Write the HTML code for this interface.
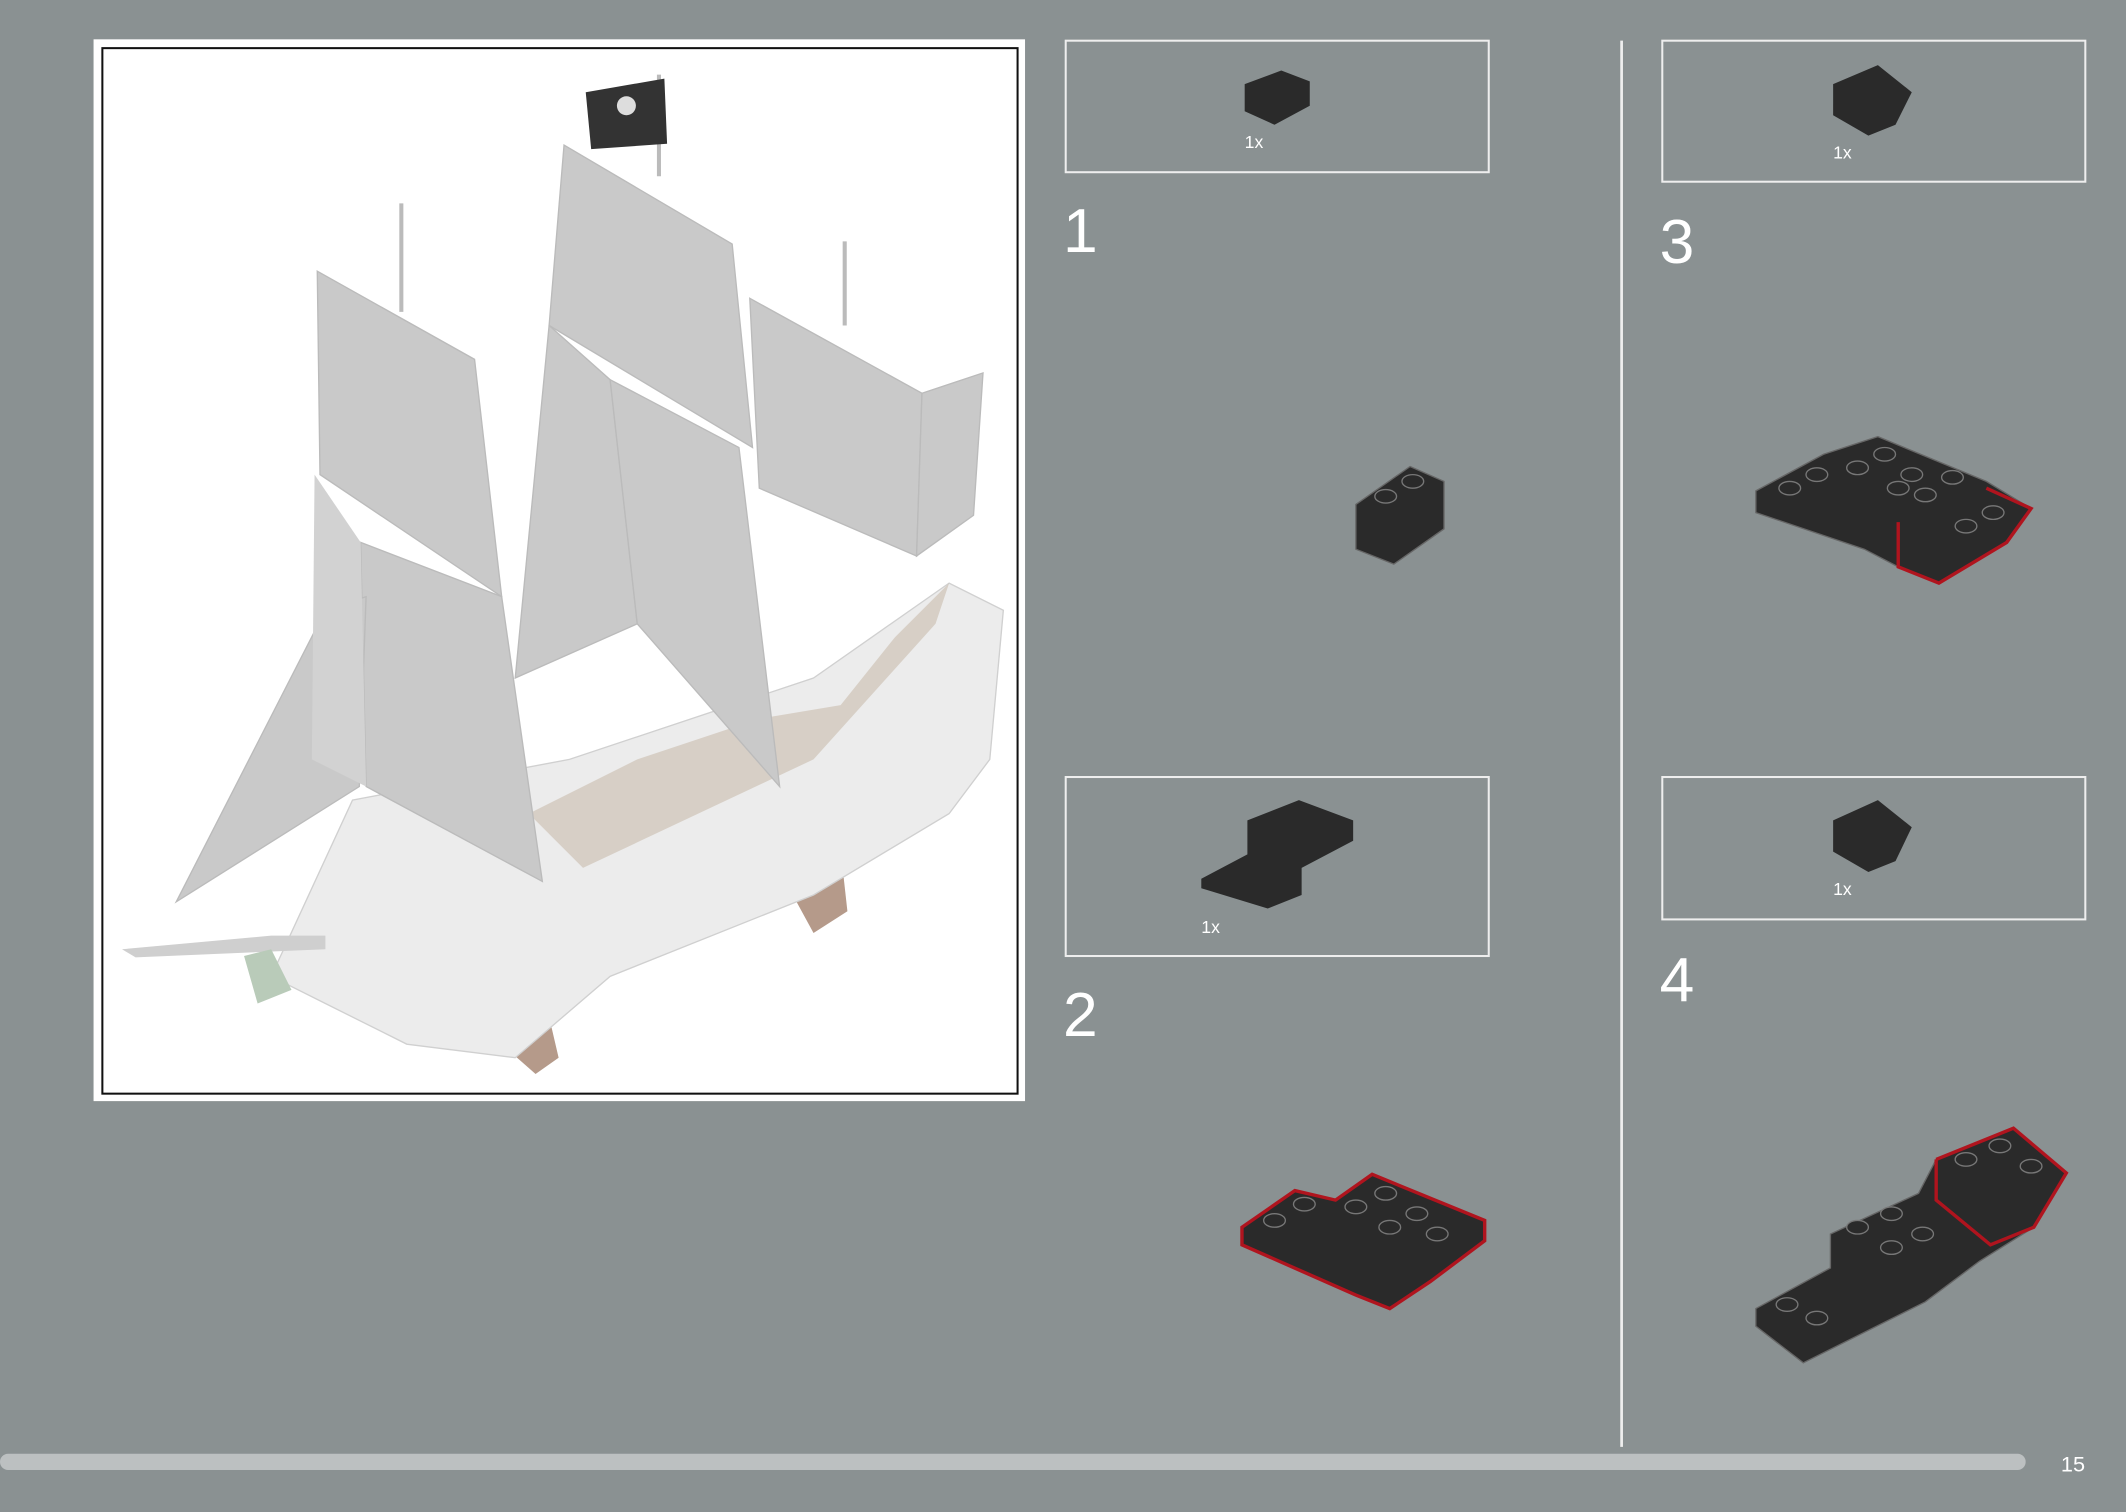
<!DOCTYPE html>
<html><head><meta charset="utf-8"><style>
html,body{margin:0;padding:0;background:#8a9192;}
svg{display:block}
text{font-family:"Liberation Sans",sans-serif;}
</style></head><body>
<svg width="2126" height="1512" viewBox="0 0 1568 1115" preserveAspectRatio="none" xmlns="http://www.w3.org/2000/svg">
<defs>
<g id="stud"><ellipse cx="0" cy="0" rx="8" ry="5" fill="#2a2a2a" stroke="#777" stroke-width="1"/></g>
</defs>
<rect width="1568" height="1115" fill="#8a9192"/>
<rect x="69" y="29" width="687" height="783" fill="#fff"/>
<rect x="75.5" y="35.5" width="675" height="771" fill="none" stroke="#111" stroke-width="1.5"/>
<g>
 <polygon points="370,770 395,792 412,780 405,750 385,755" fill="#b59a8a"/>
 <polygon points="582,655 600,688 625,672 622,645" fill="#b59a8a"/>
 <polygon points="200,720 260,590 420,560 600,500 700,430 740,450 730,560 700,600 600,660 450,720 380,780 300,770 240,740" fill="#ececec" stroke="#d0d0d0"/>
 <polygon points="390,600 470,560 560,530 620,520 660,470 700,430 690,460 600,560 430,640" fill="#c9bcae" opacity="0.6"/>
 <polygon points="90,700 200,690 240,690 240,700 100,706" fill="#cfcfcf"/>
 <polygon points="180,705 200,700 215,730 190,740" fill="#b9cbb9"/>
 <polygon points="234,200 350,265 370,440 236,350" fill="#c9c9c9" stroke="#bbb"/>
 <polygon points="266,400 370,440 400,650 270,580" fill="#c9c9c9" stroke="#bbb"/>
 <polygon points="416,107 540,180 555,330 405,240" fill="#c9c9c9" stroke="#bbb"/>
 <polygon points="405,240 450,280 470,460 380,500" fill="#c9c9c9" stroke="#bbb"/>
 <polygon points="450,280 545,330 575,580 470,460" fill="#c9c9c9" stroke="#bbb"/>
 <polygon points="553,220 680,290 676,410 560,360" fill="#c9c9c9" stroke="#bbb"/>
 <polygon points="680,290 725,275 718,380 676,410" fill="#c9c9c9" stroke="#bbb"/>
 <polygon points="130,665 240,450 270,440 265,580" fill="#c9c9c9" stroke="#bbb"/>
 <polygon points="232,350 266,400 270,580 230,560" fill="#d2d2d2"/>
 <line x1="296" y1="150" x2="296" y2="230" stroke="#bbb" stroke-width="3"/>
 <line x1="486" y1="55" x2="486" y2="130" stroke="#bbb" stroke-width="3"/>
 <line x1="623" y1="178" x2="623" y2="240" stroke="#bbb" stroke-width="3"/>
 <polygon points="432,68 490,58 492,106 436,110" fill="#333"/>
 <circle cx="462" cy="78" r="7" fill="#ddd"/>
</g>
<rect x="786" y="30" width="312" height="97" fill="none" stroke="#eee" stroke-width="1.5"/>
<polygon points="918,62 945,52 966,60 966,78 940,92 918,82" fill="#2a2a2a"/>
<text x="918" y="109" font-size="13" fill="#fff">1x</text>
<text x="784" y="186" font-size="46" font-weight="300" fill="#fff">1</text>
<polygon points="1000,372 1040,344 1065,355 1065,390 1028,416 1000,405" fill="#2a2a2a" stroke="#666"/>
<use href="#stud" x="1022" y="366"/><use href="#stud" x="1042" y="355"/>
<rect x="786" y="573" width="312" height="132" fill="none" stroke="#eee" stroke-width="1.5"/>
<polygon points="886,648 920,630 920,605 958,590 998,605 998,620 960,640 960,660 935,670 886,655" fill="#2a2a2a"/>
<text x="886" y="688" font-size="13" fill="#fff">1x</text>
<text x="784" y="764" font-size="46" font-weight="300" fill="#fff">2</text>
<polygon points="916,905 955,878 985,885 1012,866 1095,900 1095,915 1055,945 1025,965 1000,955 916,918" fill="#2a2a2a" stroke="#b0141e" stroke-width="2.5"/>
<use href="#stud" x="940" y="900"/><use href="#stud" x="962" y="888"/><use href="#stud" x="1000" y="890"/><use href="#stud" x="1022" y="880"/><use href="#stud" x="1045" y="895"/><use href="#stud" x="1025" y="905"/><use href="#stud" x="1060" y="910"/>
<line x1="1196" y1="30" x2="1196" y2="1067" stroke="#eee" stroke-width="2"/>
<rect x="1226" y="30" width="312" height="104" fill="none" stroke="#eee" stroke-width="1.5"/>
<polygon points="1352,62 1385,48 1410,68 1398,92 1378,100 1352,85" fill="#2a2a2a"/>
<text x="1352" y="117" font-size="13" fill="#fff">1x</text>
<text x="1224" y="194" font-size="46" font-weight="300" fill="#fff">3</text>
<polygon points="1295,362 1345,335 1385,322 1465,355 1498,375 1480,400 1430,430 1400,418 1375,405 1295,378" fill="#2a2a2a" stroke="#666"/>
<use href="#stud" x="1320" y="360"/><use href="#stud" x="1340" y="350"/><use href="#stud" x="1370" y="345"/><use href="#stud" x="1390" y="335"/><use href="#stud" x="1410" y="350"/><use href="#stud" x="1400" y="360"/><use href="#stud" x="1440" y="352"/><use href="#stud" x="1420" y="365"/><use href="#stud" x="1470" y="378"/><use href="#stud" x="1450" y="388"/>
<polyline points="1465,360 1498,375 1480,400 1430,430 1400,418 1400,385" fill="none" stroke="#b0141e" stroke-width="2.5"/>
<rect x="1226" y="573" width="312" height="105" fill="none" stroke="#eee" stroke-width="1.5"/>
<polygon points="1352,605 1385,590 1410,610 1398,635 1378,643 1352,628" fill="#2a2a2a"/>
<text x="1352" y="660" font-size="13" fill="#fff">1x</text>
<text x="1224" y="738" font-size="46" font-weight="300" fill="#fff">4</text>
<polygon points="1295,965 1350,935 1350,910 1415,880 1428,855 1485,832 1524,865 1500,905 1460,930 1420,960 1330,1005 1295,978" fill="#2a2a2a" stroke="#666"/>
<use href="#stud" x="1318" y="962"/><use href="#stud" x="1340" y="972"/><use href="#stud" x="1370" y="905"/><use href="#stud" x="1395" y="895"/><use href="#stud" x="1418" y="910"/><use href="#stud" x="1395" y="920"/><use href="#stud" x="1450" y="855"/><use href="#stud" x="1475" y="845"/><use href="#stud" x="1498" y="860"/>
<polyline points="1428,855 1485,832 1524,865 1500,905 1468,918 1428,885 1428,855" fill="none" stroke="#b0141e" stroke-width="2.5"/>
<rect x="0" y="1072" width="1494" height="12" rx="6" fill="#bcc0c1"/>
<text x="1520" y="1085" font-size="16" fill="#fff">15</text>
</svg>
</body></html>
